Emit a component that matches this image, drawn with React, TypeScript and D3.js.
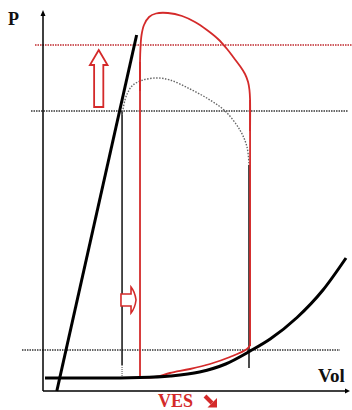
import React from "react";
import * as d3 from "d3";

// ---- data (volume in mL, pressure in mmHg) ----
const espvrV = [9, 61];
const espvrP = [0, 178];

const edpvrV = [1.3, 37, 63, 83, 102, 119, 135, 148, 165.5, 182.4, 197.4];
const edpvrP = [6.5, 6.5, 6.75, 7.5, 9.5, 13.5, 20, 26, 36.75, 50.5, 66.5];

const loopBottomV = [63.2, 73, 82.7, 95.8, 108.8, 121.8, 132.9, 134.9];
const loopBottomP = [6.75, 7, 9, 11, 13.5, 17, 21, 23];
const loopRightV = [134.9, 134.9];
const loopRightP = [22.5, 145.5];
const loopTopV = [134.9, 134.9, 134.5, 133.6, 131.6, 128.3, 124.4, 119.9, 114.0, 106.8, 99.0, 90.6, 81.4, 73.6, 69.1, 65.8, 64.2, 63.5, 63.2, 63.2];
const loopTopP = [130, 145.5, 150.5, 154.5, 158.5, 162.5, 166.5, 171, 176, 180.5, 184.5, 187.5, 189, 188.75, 187, 183, 178, 171.5, 164.5, 150];
const loopLeftV = [63.2, 63.2];
const loopLeftP = [164.5, 6.75];

const arcV = [51.5, 53.4, 55.4, 58.6, 65.1, 74.3, 82.7, 95.8, 108.8, 118.6, 128.3, 132.9, 134.2];
const arcP = [138, 145.5, 149.5, 153, 155.5, 156.5, 155.5, 151, 145.5, 140, 130.5, 122, 113];

const levelP = [173, 140, 20.5];
const levelFrom = [-5.2, -7.8, -13.7];
const levelTo = [201.3, 198.7, 193.5];

const leftVertV = 51.5;
const leftVertP = [140, 13, 7.5];
const rightVertV = 134.2;
const rightVertP = [113, 11.5];

const upArrow = { v: 36.3, tipP: 170.5, baseP: 142 };
const rightArrow = { v0: 50.8, v1: 60.6, p: 45.5 };

const labelsText = { p: "P", vol: "Vol", ves: "VES" };

const W = 352;
const H = 410;

export default function App() {
  const x = d3.scaleLinear().domain([0, 200]).range([43, 350]);
  const y = d3.scaleLinear().domain([0, 190]).range([391, 11]);

  const mk = (vs: number[], ps: number[], curve: any) =>
    d3
      .line<number>()
      .x((_, i) => x(vs[i]))
      .y((_, i) => y(ps[i]))
      .curve(curve)(vs.map((_, i) => i)) || "";

  const red = "#d42a2a";

  // up arrow
  const ux = x(upArrow.v);
  const uTip = y(upArrow.tipP);
  const uBase = y(upArrow.baseP);
  const hw = 8.8,
    sw = 4.6,
    hh = 15;
  const upPath = `M${ux},${uTip} L${ux + hw},${uTip + hh} L${ux + sw},${uTip + hh} L${ux + sw},${uBase} L${ux - sw},${uBase} L${ux - sw},${uTip + hh} L${ux - hw},${uTip + hh} Z`;

  // right arrow
  const rl = x(rightArrow.v0);
  const rt = x(rightArrow.v1);
  const rc = y(rightArrow.p);
  const rightPath = `M${rl},${rc - 6} L${rt - 5},${rc - 6} L${rt - 5},${rc - 13} Q${rt - 1},${rc - 8} ${rt},${rc} Q${rt - 1},${rc + 8} ${rt - 5},${rc + 13} L${rt - 5},${rc + 6} L${rl},${rc + 6} Z`;

  return (
    <svg
      width={W}
      height={H}
      style={{ position: "absolute", left: 0, top: 0, background: "#fff" }}
    >
      {/* level lines */}
      {levelP.map((p, i) => (
        <line
          key={i}
          x1={x(levelFrom[i])}
          x2={x(levelTo[i])}
          y1={y(p)}
          y2={y(p)}
          stroke={i === 0 ? "#c0282d" : "#333"}
          strokeWidth={1.4}
          strokeDasharray="1.5 1"
        />
      ))}

      {/* axes */}
      <line x1={x(0)} x2={x(0)} y1={y(0)} y2={y(188)} stroke="#000" strokeWidth={1.5} />
      <path d={`M${x(0)},${y(190.5)} l-2.5,6 l5,0 Z`} fill="#000" />
      <line x1={x(0)} x2={x(198)} y1={y(0)} y2={y(0)} stroke="#000" strokeWidth={1.5} />
      <path d={`M${x(200)},${y(0)} l-5,-2.5 l0,5 Z`} fill="#000" />

      {/* vertical black lines */}
      <line x1={x(leftVertV)} x2={x(leftVertV)} y1={y(leftVertP[0])} y2={y(leftVertP[1])} stroke="#111" strokeWidth={1.5} />
      <line x1={x(leftVertV)} x2={x(leftVertV)} y1={y(leftVertP[1])} y2={y(leftVertP[2])} stroke="#888" strokeWidth={1.5} strokeDasharray="1 1" />
      <line x1={x(rightVertV)} x2={x(rightVertV)} y1={y(rightVertP[0])} y2={y(rightVertP[1])} stroke="#111" strokeWidth={1.5} />

      {/* dotted arc */}
      <path d={mk(arcV, arcP, d3.curveCatmullRom)} fill="none" stroke="#666" strokeWidth={1.4} strokeDasharray="1.5 1.5" />

      {/* PV loop */}
      <g fill="none" stroke={red} strokeWidth={1.8} strokeLinejoin="round">
        <path d={mk(loopBottomV, loopBottomP, d3.curveCatmullRom)} />
        <path d={mk(loopRightV, loopRightP, d3.curveLinear)} />
        <path d={mk(loopTopV, loopTopP, d3.curveCatmullRom)} />
        <path d={mk(loopLeftV, loopLeftP, d3.curveLinear)} />
      </g>

      {/* ESPVR and EDPVR */}
      <path d={mk(espvrV, espvrP, d3.curveLinear)} fill="none" stroke="#000" strokeWidth={3} />
      <path d={mk(edpvrV, edpvrP, d3.curveMonotoneX)} fill="none" stroke="#000" strokeWidth={3} />

      {/* arrows */}
      <path d={upPath} fill="#fff" stroke={red} strokeWidth={1.8} strokeLinejoin="miter" />
      <path d={rightPath} fill="#fff" stroke={red} strokeWidth={1.6} />

      {/* labels */}
      <text x={8} y={25} fontFamily="Liberation Serif, serif" fontWeight="bold" fontSize={18} fill="#111">
        {labelsText.p}
      </text>
      <text x={318} y={382} fontFamily="Liberation Serif, serif" fontWeight="bold" fontSize={19} fill="#111">
        {labelsText.vol}
      </text>
      <text x={158} y={407} fontFamily="Liberation Serif, serif" fontWeight="bold" fontSize={18} fill={red}>
        {labelsText.ves}
      </text>
      <line x1={205} y1={396} x2={212} y2={403} stroke={red} strokeWidth={4} />
      <path d="M217,407.5 L217,398 L207.5,407.5 Z" fill={red} />
    </svg>
  );
}
